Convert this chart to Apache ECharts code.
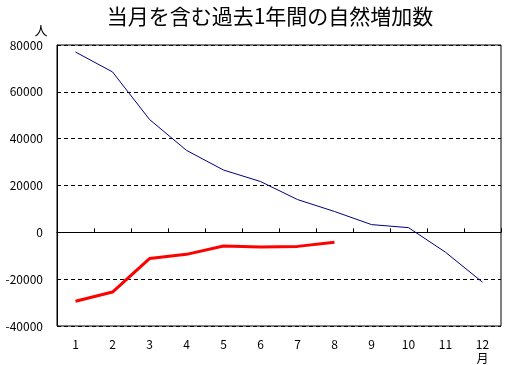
<!DOCTYPE html>
<html><head><meta charset="utf-8">
<script src="https://cdn.jsdelivr.net/npm/echarts@6/dist/echarts.min.js"></script>
<style>html,body{margin:0;padding:0;background:#fff}#c{width:505px;height:365px}</style>
</head><body><div id="c"></div>
<script>
const months = ['1','2','3','4','5','6','7','8','9','10','11','12'];
const prevYear = [77000, 68500, 48200, 35000, 26600, 21700, 14000, 8900, 3300, 2000, -8500, -21300];
const thisYear = [-29400, -25500, -11200, -9400, -5800, -6300, -6000, -4200, null, null, null, null];
const yTicks = {min: -40000, max: 80000, interval: 20000};

const chart = echarts.init(document.getElementById('c'), null, {renderer: 'canvas'});
const font = '"Noto Sans CJK JP", sans-serif';
chart.setOption({
  animation: false,
  backgroundColor: '#fff',
  title: {text: '当月を含む過去1年間の自然増加数', left: 265, textAlign: 'center', top: 1,
    textStyle: {fontFamily: font, fontSize: 21, fontWeight: 'normal', color: '#000'}},
  grid: {left: 57, right: 4, top: 45, bottom: 38, show: true, borderColor: '#000', borderWidth: 1},
  xAxis: {type: 'category', data: months, boundaryGap: true,
    axisLine: {lineStyle: {color: '#000', width: 1}},
    axisTick: {show: true, inside: true, length: 4, lineStyle: {color: '#000'}},
    axisLabel: {color: '#000', fontFamily: font, fontSize: 12, margin: 11, lineHeight: 14,
      formatter: (v, i) => i === months.length - 1 ? v + '\n月' : v}},
  yAxis: {type: 'value', min: yTicks.min, max: yTicks.max, interval: yTicks.interval,
    axisLine: {show: true, lineStyle: {color: '#000'}},
    axisTick: {show: false},
    axisLabel: {color: '#000', fontFamily: font, fontSize: 12, margin: 14, formatter: v => String(v)},
    splitLine: {show: true, lineStyle: {color: '#000', type: [4, 3], width: 1}},
    name: '人', nameLocation: 'end', nameGap: 8,
    nameTextStyle: {color: '#000', fontFamily: font, fontSize: 13, align: 'center', padding: [0, 32, 0, 0]}},
  series: [
    {type: 'line', data: prevYear, symbol: 'none', lineStyle: {color: '#000080', width: 1}, itemStyle: {color: '#000080'}},
    {type: 'line', data: thisYear, symbol: 'none', lineStyle: {color: '#ff0000', width: 3}, itemStyle: {color: '#ff0000'}}
  ]
});
</script></body></html>
